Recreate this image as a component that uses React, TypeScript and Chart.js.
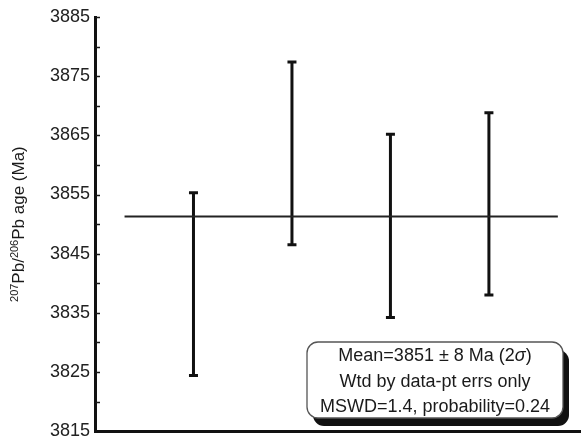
import React, { useEffect, useRef } from "react";
import { Chart, registerables } from "chart.js";

Chart.register(...registerables);

// analysis index of each grain
const analyses = [1, 2, 3, 4];
// 207Pb/206Pb ages, lower and upper ends of 2σ error bars (Ma)
const ageLow = [3824.4, 3846.5, 3834.2, 3838.0];
const ageHigh = [3855.3, 3877.4, 3865.2, 3868.8];
// weighted mean line
const meanAge = 3851.3;
const meanSpan = [0.3, 4.7];
// y axis ticks
const yMajorTicks = [3815, 3825, 3835, 3845, 3855, 3865, 3875, 3885];
const yMinorTicks = [3820, 3830, 3840, 3850, 3860, 3870, 3880];
// info box text
const boxLine1 = ["Mean=3851 ± 8 Ma (2", "σ", ")"];
const boxLine2 = "Wtd by data-pt errs only";
const boxLine3 = "MSWD=1.4, probability=0.24";

const FONT = "Arial, 'Liberation Sans', sans-serif";
const INK = "#1a1a1a";

const decorPlugin = {
  id: "decor",
  afterDraw(chart: any) {
    const ctx = chart.ctx as CanvasRenderingContext2D;
    const y = chart.scales.y;
    const area = chart.chartArea;
    ctx.save();
    // inward ticks
    ctx.strokeStyle = INK;
    ctx.lineWidth = 1.5;
    [...yMajorTicks, ...yMinorTicks].forEach((v) => {
      if (v === yMajorTicks[0]) return;
      const py = Math.round(y.getPixelForValue(v)) + 0.5;
      ctx.beginPath();
      ctx.moveTo(area.left + 1, py);
      ctx.lineTo(area.left + 5, py);
      ctx.stroke();
    });

    // y axis title with superscripts, rotated
    const parts: [string, boolean][] = [
      ["207", true],
      ["Pb/", false],
      ["206", true],
      ["Pb age (Ma)", false],
    ];
    const mainFont = `17px ${FONT}`;
    const supFont = `11px ${FONT}`;
    let total = 0;
    parts.forEach(([t, sup]) => {
      ctx.font = sup ? supFont : mainFont;
      total += ctx.measureText(t).width;
    });
    const cy = (area.top + area.bottom) / 2;
    ctx.translate(24, cy);
    ctx.rotate(-Math.PI / 2);
    ctx.fillStyle = INK;
    ctx.textBaseline = "alphabetic";
    ctx.textAlign = "left";
    let x = -total / 2;
    parts.forEach(([t, sup]) => {
      ctx.font = sup ? supFont : mainFont;
      ctx.fillText(t, x, sup ? -6 : 0);
      x += ctx.measureText(t).width;
    });
    ctx.restore();

    // info box with drop shadow
    ctx.save();
    const bx = 307, by = 342, bw = 256, bh = 76, r = 11;
    const rr = (x0: number, y0: number) => {
      ctx.beginPath();
      ctx.moveTo(x0 + r, y0);
      ctx.lineTo(x0 + bw - r, y0);
      ctx.arcTo(x0 + bw, y0, x0 + bw, y0 + r, r);
      ctx.lineTo(x0 + bw, y0 + bh - r);
      ctx.arcTo(x0 + bw, y0 + bh, x0 + bw - r, y0 + bh, r);
      ctx.lineTo(x0 + r, y0 + bh);
      ctx.arcTo(x0, y0 + bh, x0, y0 + bh - r, r);
      ctx.lineTo(x0, y0 + r);
      ctx.arcTo(x0, y0, x0 + r, y0, r);
      ctx.closePath();
    };
    rr(bx + 6, by + 8);
    ctx.fillStyle = "#111";
    ctx.fill();
    rr(bx, by);
    ctx.fillStyle = "#fff";
    ctx.fill();
    ctx.strokeStyle = "#555";
    ctx.lineWidth = 1.3;
    ctx.stroke();

    const cx = bx + bw / 2;
    ctx.fillStyle = INK;
    ctx.textBaseline = "middle";
    const f = `18px ${FONT}`;
    const fi = `italic 18px ${FONT}`;
    ctx.font = f;
    const w0 = ctx.measureText(boxLine1[0]).width;
    ctx.font = fi;
    const w1 = ctx.measureText(boxLine1[1]).width;
    ctx.font = f;
    const w2 = ctx.measureText(boxLine1[2]).width;
    let lx = cx - (w0 + w1 + w2) / 2;
    ctx.textAlign = "left";
    ctx.fillText(boxLine1[0], lx, by + 14);
    lx += w0;
    ctx.font = fi;
    ctx.fillText(boxLine1[1], lx, by + 14);
    lx += w1;
    ctx.font = f;
    ctx.fillText(boxLine1[2], lx, by + 14);
    ctx.textAlign = "center";
    ctx.fillText(boxLine2, cx, by + 40);
    ctx.fillText(boxLine3, cx, by + 65);
    ctx.restore();
  },
};

export default function App() {
  const ref = useRef<HTMLCanvasElement | null>(null);
  useEffect(() => {
    if (!ref.current) return;
    const barSets = analyses.map((a, i) => ({
      data: [
        { x: a, y: ageLow[i] },
        { x: a, y: ageHigh[i] },
      ],
      showLine: true,
      borderColor: "#111",
      borderWidth: 3,
      pointStyle: "line",
      pointRadius: 4.5,
      pointBorderWidth: 3,
      pointBorderColor: "#111",
      pointBackgroundColor: "#111",
    }));
    const chart = new Chart(ref.current, {
      type: "scatter",
      data: {
        datasets: [
          {
            data: [
              { x: meanSpan[0], y: meanAge },
              { x: meanSpan[1], y: meanAge },
            ],
            showLine: true,
            borderColor: "#222",
            borderWidth: 2,
            pointRadius: 0,
          } as any,
          ...(barSets as any[]),
        ],
      },
      options: {
        animation: false,
        responsive: false,
        layout: { padding: { top: 17, right: 3, bottom: 10, left: 0 } },
        plugins: { legend: { display: false }, tooltip: { enabled: false } },
        scales: {
          x: {
            type: "linear",
            min: 0,
            max: 4.93,
            grid: { display: false, drawTicks: false },
            ticks: { display: false },
            border: { display: true, color: "#111", width: 3 },
            afterFit: (s: any) => {
              s.height = 0;
            },
          },
          y: {
            type: "linear",
            min: 3815,
            max: 3885,
            grid: { display: false, drawTicks: false },
            border: { display: true, color: "#111", width: 3 },
            ticks: {
              padding: 5,
              color: "#222",
              font: { family: FONT, size: 18 },
              callback: (v: any) => String(v),
            },
            afterBuildTicks: (s: any) => {
              s.ticks = yMajorTicks.map((v) => ({ value: v }));
            },
            afterFit: (s: any) => {
              s.width = 95;
            },
          },
        },
      },
      plugins: [decorPlugin],
    } as any);
    return () => chart.destroy();
  }, []);
  return (
    <div style={{ position: "fixed", left: 0, top: 0, width: 588, height: 447, background: "#fff" }}>
      <canvas ref={ref} width={588} height={447} style={{ width: 588, height: 447, display: "block" }} />
    </div>
  );
}
